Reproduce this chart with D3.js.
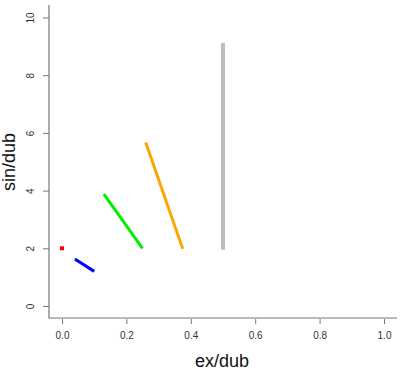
<!DOCTYPE html>
<html><head><meta charset="utf-8">
<script src="https://cdn.jsdelivr.net/npm/d3@7"></script>
<style>body{margin:0;background:#fff;font-family:"Liberation Sans",Arial,sans-serif}</style>
</head><body><svg id="c" width="403" height="370"></svg>
<script>
const seriesNames = ["red","blue","green","orange","gray"];
const seriesColors = ["#FF0000","#0000FF","#00EE00","#FFA500","#BEBEBE"];
const seriesX = [[0.0,0.003],[0.04,0.10],[0.13,0.25],[0.26,0.375],[0.5,0.5]];
const seriesY = [[2.0,2.0],[1.63,1.2],[3.88,2.0],[5.67,1.98],[9.12,1.95]];
const seriesWidth = [4,3,3,3,4];
const xTicks = [0,0.2,0.4,0.6,0.8,1.0];
const yTicks = [0,2,4,6,8,10];

const svg = d3.select("#c");
const x = d3.scaleLinear().domain([0,1]).range([62,384]);
const y = d3.scaleLinear().domain([0,10]).range([306,17.5]);
const axisColor = "#777";

svg.append("path").attr("d",`M49,5V318H397`).attr("fill","none").attr("stroke",axisColor).attr("stroke-width",1.2);

const gx = svg.append("g").attr("transform","translate(0,318)")
  .call(d3.axisBottom(x).tickValues(xTicks).tickFormat(d3.format(".1f")).tickSize(5).tickPadding(9));
gx.select(".domain").remove();
gx.selectAll("line").attr("stroke",axisColor).attr("transform","translate(0,1)");
gx.selectAll("text").attr("fill","#333").style("font-size","10px").style("font-family","Liberation Sans, Arial, sans-serif");

const gy = svg.append("g").attr("transform","translate(49,0)")
  .call(d3.axisLeft(y).tickValues(yTicks).tickFormat(d3.format("d")).tickSize(6));
gy.select(".domain").remove();
gy.selectAll("line").attr("stroke",axisColor);
gy.selectAll("text").attr("fill","#333").style("font-size","10px").style("font-family","Liberation Sans, Arial, sans-serif")
  .attr("text-anchor","middle").attr("x",0).attr("dy",0)
  .attr("transform","translate(-18,0) rotate(-90)").attr("dominant-baseline","middle");

svg.append("text").attr("x",222).attr("y",367).attr("text-anchor","middle")
  .style("font-size","18px").attr("fill","#111").text("ex/dub");
svg.append("text").attr("transform","translate(10,162) rotate(-90)").attr("text-anchor","middle")
  .attr("dominant-baseline","middle").style("font-size","18px").attr("fill","#111").text("sin/dub");

const line = d3.line().x(d=>x(d[0])).y(d=>y(d[1]));
seriesNames.forEach((n,i)=>{
  const pts = seriesX[i].map((v,j)=>[v,seriesY[i][j]]);
  if(n==="red"){
    svg.append("rect").attr("x",x(pts[0][0])-2).attr("y",y(pts[0][1])-2).attr("width",4).attr("height",4).attr("fill",seriesColors[i]);
  } else {
    svg.append("path").attr("d",line(pts)).attr("fill","none").attr("stroke",seriesColors[i])
      .attr("stroke-width",seriesWidth[i]).attr("stroke-linecap","butt");
  }
});
</script></body></html>
